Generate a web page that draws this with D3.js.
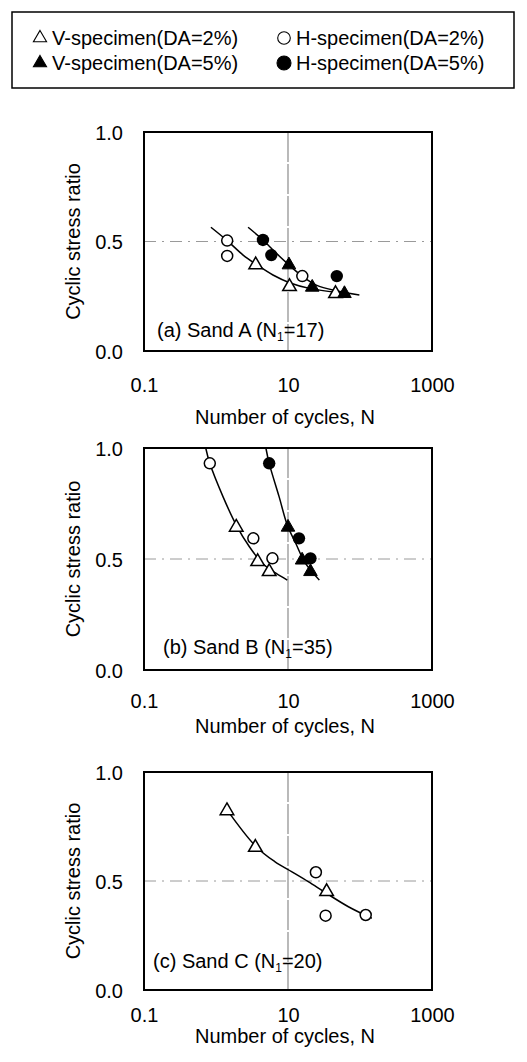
<!DOCTYPE html>
<html><head><meta charset="utf-8">
<script src="https://cdn.jsdelivr.net/npm/d3@7"></script>
<style>
html,body{margin:0;padding:0;background:#fff;}
svg text{font-family:Arial,"Liberation Sans",sans-serif;fill:#000;}
</style></head>
<body><svg id="c" width="527" height="1062"></svg>
<script>
// ---------- data ----------
const xTicks = [0.1, 10, 1000];
const xTickLabels = ["0.1", "10", "1000"];
const yTicks = [0, 0.5, 1.0];
const yTickLabels = ["0.0", "0.5", "1.0"];
const legendLabels = ["V-specimen(DA=2%)", "H-specimen(DA=2%)", "V-specimen(DA=5%)", "H-specimen(DA=5%)"];
const panelNames = ["(a) Sand A (N", "(b) Sand B (N", "(c) Sand C (N"];
const panelN1 = ["17", "35", "20"];

// Sand A  [N, CSR]
const sandA_V2 = [[3.56, 0.393], [10.5, 0.294], [45.7, 0.262]];
const sandA_V5 = [[10.3, 0.393], [21.7, 0.291], [60.8, 0.262]];
const sandA_H2 = [[1.43, 0.504], [1.43, 0.434], [15.8, 0.342]];
const sandA_H5 = [[4.49, 0.507], [5.87, 0.438], [47.6, 0.342]];
const sandA_fit2 = [[0.85, 0.565], [1.43, 0.504], [2.38, 0.438], [3.56, 0.397], [6.18, 0.347], [10.5, 0.312], [19.9, 0.286], [46.7, 0.268], [57.7, 0.266]];
const sandA_fit5 = [[2.79, 0.565], [4.49, 0.507], [6.89, 0.446], [10.3, 0.393], [16.1, 0.339], [24.7, 0.301], [46.7, 0.275], [98, 0.256]];

// Sand B
const sandB_V2 = [[1.91, 0.643], [3.79, 0.488], [5.48, 0.443]];
const sandB_V5 = [[10.0, 0.643], [15.7, 0.495], [20.5, 0.443]];
const sandB_H2 = [[0.82, 0.931], [3.3, 0.593], [6.08, 0.503]];
const sandB_H5 = [[5.48, 0.931], [14.2, 0.593], [20.5, 0.503]];
const sandB_fit2 = [[0.72, 1.0], [0.82, 0.931], [1.25, 0.781], [1.91, 0.653], [2.91, 0.555], [4.44, 0.48], [6.78, 0.436], [9.77, 0.405]];
const sandB_fit5 = [[4.93, 1.0], [5.48, 0.931], [7.52, 0.781], [9.77, 0.653], [12.8, 0.571], [17.5, 0.48], [27.3, 0.405]];

// Sand C
const sandC_V2 = [[1.42, 0.822], [3.52, 0.654], [34.4, 0.451]];
const sandC_V5 = [];
const sandC_H2 = [[24.4, 0.54], [33.3, 0.341], [120, 0.344]];
const sandC_H5 = [];
const sandC_fit2 = [[1.32, 0.841], [3.52, 0.661], [6.55, 0.589], [11.2, 0.543], [19.1, 0.497], [34.4, 0.443], [69, 0.382], [146, 0.329]];
const sandC_fit5 = [];

const panelsData = [
  {V2: sandA_V2, V5: sandA_V5, H2: sandA_H2, H5: sandA_H5, fits: [sandA_fit2, sandA_fit5]},
  {V2: sandB_V2, V5: sandB_V5, H2: sandB_H2, H5: sandB_H5, fits: [sandB_fit2, sandB_fit5]},
  {V2: sandC_V2, V5: sandC_V5, H2: sandC_H2, H5: sandC_H5, fits: [sandC_fit2, sandC_fit5]}
];

// ---------- layout ----------
const L = 144, R = 432;
const layout = [
  {top: 132, bottom: 351, tickY: 392, titleY: 424, labelX: 157, labelY: 337},
  {top: 448, bottom: 670, tickY: 708, titleY: 733, labelX: 163, labelY: 654},
  {top: 772, bottom: 990, tickY: 1022, titleY: 1043, labelX: 153, labelY: 968}
];
const FS = 20;

const svg = d3.select("#c");

// legend
const lg = svg.append("g");
lg.append("rect").attr("x", 12).attr("y", 12).attr("width", 502).attr("height", 76)
  .attr("fill", "none").attr("stroke", "#000").attr("stroke-width", 1.5);
const legItems = [
  {sym: "tri", fill: false, x: 40, y: 38, lbl: legendLabels[0]},
  {sym: "circ", fill: false, x: 284, y: 38, lbl: legendLabels[1]},
  {sym: "tri", fill: true, x: 40, y: 63, lbl: legendLabels[2]},
  {sym: "circ", fill: true, x: 284, y: 63, lbl: legendLabels[3]}
];
const triPath = d3.symbol().type(d3.symbolTriangle).size(75);
legItems.forEach(it => {
  if (it.sym === "tri") {
    lg.append("path").attr("d", triPath()).attr("transform", `translate(${it.x},${it.y})`)
      .attr("fill", it.fill ? "#000" : "#fff").attr("stroke", "#000").attr("stroke-width", 1.1);
  } else {
    lg.append("circle").attr("cx", it.x).attr("cy", it.y).attr("r", it.fill ? 7 : 6.3)
      .attr("fill", it.fill ? "#000" : "#fff").attr("stroke", "#000").attr("stroke-width", 1.1);
  }
  lg.append("text").attr("x", it.x + 12).attr("y", it.y + 7).attr("font-size", FS).text(it.lbl);
});

const x = d3.scaleLog().domain([0.1, 1000]).range([L, R]);

panelsData.forEach((pd, i) => {
  const ly = layout[i];
  const y = d3.scaleLinear().domain([0, 1]).range([ly.bottom, ly.top]);
  const g = svg.append("g");

  // gridlines
  g.append("line").attr("x1", x(10)).attr("x2", x(10)).attr("y1", ly.top).attr("y2", ly.bottom)
    .attr("stroke", "#8c8c8c").attr("stroke-width", 1.2).attr("stroke-dasharray", "30,2");
  g.append("line").attr("x1", L).attr("x2", R).attr("y1", y(0.5)).attr("y2", y(0.5))
    .attr("stroke", "#9a9a9a").attr("stroke-width", 1).attr("stroke-dasharray", "12,6,2,6");

  // frame
  g.append("rect").attr("x", L).attr("y", ly.top).attr("width", R - L).attr("height", ly.bottom - ly.top)
    .attr("fill", "none").attr("stroke", "#000").attr("stroke-width", 2);

  // x ticks (labels only)
  const xa = d3.axisBottom(x).tickValues(xTicks).tickFormat((d, k) => xTickLabels[k]).tickSize(0).tickPadding(0);
  const xg = g.append("g").attr("transform", `translate(0,${ly.tickY})`).call(xa);
  xg.select(".domain").remove();
  xg.selectAll("text").attr("font-size", FS).attr("font-family", "Arial, 'Liberation Sans', sans-serif")
    .attr("fill", "#000").attr("dy", 0).attr("y", 0);

  // y ticks (labels only)
  const ya = d3.axisLeft(y).tickValues(yTicks).tickFormat((d, k) => yTickLabels[k]).tickSize(0).tickPadding(0);
  const yg = g.append("g").attr("transform", `translate(123,0)`).call(ya);
  yg.select(".domain").remove();
  yg.selectAll("text").attr("font-size", FS).attr("font-family", "Arial, 'Liberation Sans', sans-serif")
    .attr("fill", "#000").attr("dy", "0.36em");

  // titles
  g.append("text").attr("x", (L + R) / 2 - 3).attr("y", ly.titleY).attr("text-anchor", "middle")
    .attr("font-size", FS).text("Number of cycles, N");
  g.append("text").attr("transform", `translate(80,${(ly.top + ly.bottom) / 2}) rotate(-90)`)
    .attr("text-anchor", "middle").attr("font-size", FS).text("Cyclic stress ratio");

  // panel label
  const t = g.append("text").attr("x", ly.labelX).attr("y", ly.labelY).attr("font-size", FS);
  t.append("tspan").text(panelNames[i]);
  t.append("tspan").attr("font-size", 12).attr("dy", 4).text("1");
  t.append("tspan").attr("dy", -4).text("=" + panelN1[i] + ")");

  // fits
  const line = d3.line().x(d => x(d[0])).y(d => y(d[1])).curve(d3.curveCatmullRom.alpha(0.5));
  pd.fits.forEach(f => {
    if (f.length) g.append("path").attr("d", line(f)).attr("fill", "none").attr("stroke", "#000").attr("stroke-width", 1.5);
  });

  // markers
  const tri = d3.symbol().type(d3.symbolTriangle).size(80);
  g.selectAll(null).data(pd.H2).join("circle").attr("cx", d => x(d[0])).attr("cy", d => y(d[1]))
    .attr("r", 5.5).attr("fill", "#fff").attr("stroke", "#000").attr("stroke-width", 1.5);
  g.selectAll(null).data(pd.H5).join("circle").attr("cx", d => x(d[0])).attr("cy", d => y(d[1]))
    .attr("r", 6.2).attr("fill", "#000");
  g.selectAll(null).data(pd.V2).join("path").attr("d", tri())
    .attr("transform", d => `translate(${x(d[0])},${y(d[1])})`)
    .attr("fill", "#fff").attr("stroke", "#000").attr("stroke-width", 1.5);
  g.selectAll(null).data(pd.V5).join("path").attr("d", tri())
    .attr("transform", d => `translate(${x(d[0])},${y(d[1])})`)
    .attr("fill", "#000").attr("stroke", "#000").attr("stroke-width", 1);
});
</script></body></html>
